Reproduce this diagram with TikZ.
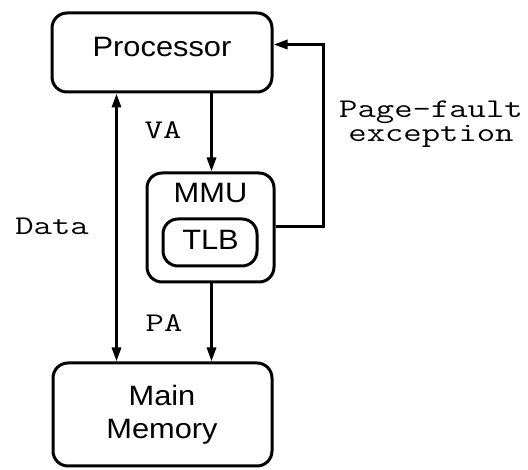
\documentclass[tikz,border=0pt]{standalone}
\usepackage{fontspec}
\setmainfont[FakeStretch=1.1]{Liberation Sans}
\newfontfamily\monolabel[FakeStretch=1.32]{Latin Modern Mono}
\usetikzlibrary{arrows.meta}
\begin{document}
\begin{tikzpicture}[x=1pt,y=-1pt,
  unit/.style={draw, line width=3pt, rounded corners=15pt, inner sep=0pt},
  wire/.style={line width=3pt},
  head/.style={-{Triangle[length=14pt,width=9pt]}},
  twohead/.style={{Triangle[length=14pt,width=9pt]}-{Triangle[length=14pt,width=9pt]}},
  unittext/.style={font=\fontsize{28}{33}\selectfont, anchor=base, inner sep=0pt},
  tag/.style={font=\monolabel\fontsize{27}{22}\selectfont, anchor=base, inner sep=0pt}]
  \useasboundingbox (0,0) rectangle (528,470);

  % blocks
  \node[unit, minimum width=220pt, minimum height=79pt] (proc) at (162,52.5) {};
  \node[unit, minimum width=127pt, minimum height=109pt] (mmu) at (210.5,227.5) {};
  \node[unit, minimum width=94pt, minimum height=47pt] (tlb) at (210,242.5) {};
  \node[unit, minimum width=219pt, minimum height=103pt] (mem) at (162.5,414.5) {};

  % block titles
  \node[unittext] (proctext) at (162,57) {Processor};
  \node[unittext] (mmutext) at (210.5,203) {MMU};
  \node[unittext] (tlbtext) at (210.5,250) {TLB};
  \node[unittext, align=center, anchor=center] (memtext) at (162,415) {Main\\Memory};

  % connector columns
  \coordinate (datax) at (116.5,0);
  \coordinate (addrx) at (211.5,0);
  \coordinate (faultturn) at (323.5,44.5);

  % data path, address paths, fault return
  \draw[wire, twohead] (proc.south -| datax) -- (mem.north -| datax);
  \draw[wire, head] (proc.south -| addrx) -- (mmu.north -| addrx);
  \draw[wire, head] (mmu.south -| addrx) -- (mem.north -| addrx);
  \draw[wire, head] (mmu.east |- 0,226.5) -| (faultturn) -- (proc.east |- faultturn);

  % connector labels
  \node[tag] (datalabel) at (52,235) {Data};
  \node[tag] (valabel) at (163,139) {VA};
  \node[tag] (palabel) at (164,332) {PA};
  \node[tag, align=center, anchor=center] (faultlabel) at (431,124) {Page-fault\\exception};
\end{tikzpicture}
\end{document}
